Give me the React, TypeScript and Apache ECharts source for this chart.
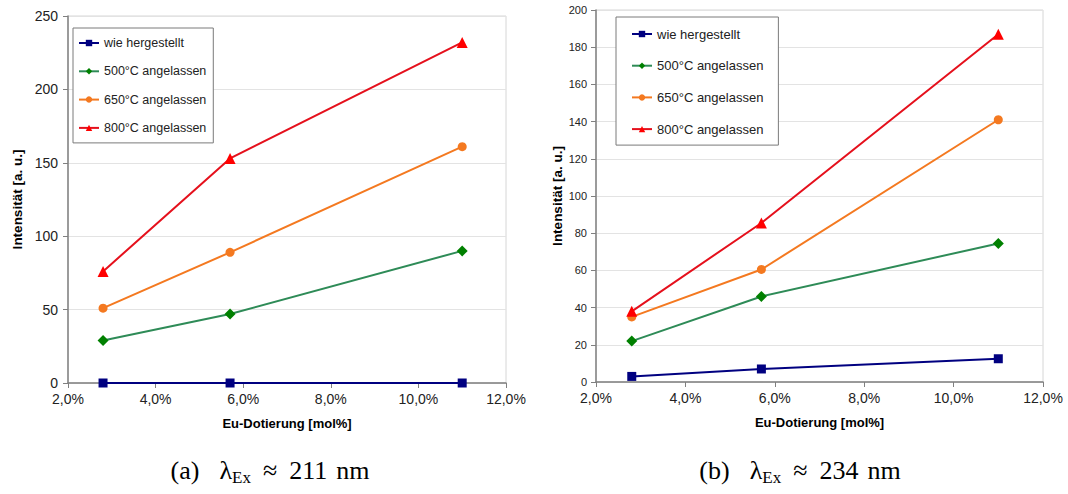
import React, { useEffect, useRef } from "react";
import * as echarts from "echarts";

// Eu doping (mol%) of the three samples
const dotierung = [2.8, 5.7, 11.0];
const seriesNames = ["wie hergestellt", "500°C angelassen", "650°C angelassen", "800°C angelassen"];

// (a) λEx ≈ 211 nm
const a_wie = [0, 0, 0];
const a_500 = [29, 47, 90];
const a_650 = [51, 89, 161];
const a_800 = [76, 153, 232];

// (b) λEx ≈ 234 nm
const b_wie = [3, 7, 12.5];
const b_500 = [22, 46, 74.5];
const b_650 = [35, 60.5, 141];
const b_800 = [38, 85.5, 187];

const xTicks = { min: 2, max: 12, interval: 2 };
const yA = { min: 0, max: 250, interval: 50 };
const yB = { min: 0, max: 200, interval: 20 };

const SANS = "'Liberation Sans', Arial, sans-serif";
const SERIF = "'Liberation Serif', 'Times New Roman', serif";

const styles = [
  { line: "#000080", marker: "#000080", symbol: "rect", size: 9 },
  { line: "#2e8b57", marker: "#008000", symbol: "diamond", size: 11 },
  { line: "#f47920", marker: "#f47920", symbol: "circle", size: 9 },
  { line: "#e5101c", marker: "#ff0000", symbol: "triangle", size: 11 },
];

function mkSeries(arrs: number[][], idx: number) {
  return arrs.map((vals, i) => ({
    type: "line",
    name: seriesNames[i],
    xAxisIndex: idx,
    yAxisIndex: idx,
    data: dotierung.map((x, j) => [x, vals[j]]),
    symbol: styles[i].symbol,
    symbolSize: styles[i].size,
    lineStyle: { color: styles[i].line, width: 2 },
    itemStyle: { color: styles[i].marker },
    z: 3 + i,
  }));
}

const fmtPct = (v: number) => v.toFixed(1).replace(".", ",") + "%";

function xAxisCfg(grid: number) {
  return {
    type: "value",
    gridIndex: grid,
    min: xTicks.min,
    max: xTicks.max,
    interval: xTicks.interval,
    axisLine: { show: true, onZero: false, lineStyle: { color: "#808080", width: 1.5 } },
    axisTick: { show: true, length: 5, lineStyle: { color: "#808080" } },
    axisLabel: { formatter: fmtPct, fontFamily: SANS, fontSize: 14, color: "#222", margin: 9 },
    splitLine: { show: false },
    name: "Eu-Dotierung [mol%]",
    nameLocation: "middle",
    nameGap: 34,
    nameTextStyle: { fontFamily: SANS, fontSize: 13, fontWeight: "bold", color: "#000" },
  };
}

function yAxisCfg(grid: number, r: { min: number; max: number; interval: number }, fs: number, gap: number, margin: number) {
  return {
    type: "value",
    gridIndex: grid,
    min: r.min,
    max: r.max,
    interval: r.interval,
    axisLine: { show: true, lineStyle: { color: "#808080", width: 1.5 } },
    axisTick: { show: true, length: 5, lineStyle: { color: "#808080" } },
    axisLabel: { fontFamily: SANS, fontSize: fs, color: "#222", margin },
    splitLine: { show: true, lineStyle: { color: "#e3e3e3", width: 1 } },
    name: "Intensität [a. u.]",
    nameLocation: "middle",
    nameGap: gap,
    nameTextStyle: { fontFamily: SANS, fontSize: 13.5, fontWeight: "bold", color: "#000" },
  };
}

function legendCfg(left: number, top: number, gap: number, padding: number[], fs: number) {
  return {
    data: seriesNames,
    orient: "vertical",
    left,
    top,
    itemGap: gap,
    itemWidth: 20,
    itemHeight: 8,
    padding,
    backgroundColor: "#fff",
    borderColor: "#7a7a7a",
    borderWidth: 1,
    textStyle: { fontFamily: SANS, fontSize: fs, color: "#222", lineHeight: 14 },
    selectedMode: false,
  };
}

const captionRich = {
  p: { fontFamily: SERIF, fontSize: 26, lineHeight: 28, color: "#000", padding: [0, 20, 0, 0] },
  m: { fontFamily: SERIF, fontSize: 26, lineHeight: 28, color: "#000" },
  q: { fontFamily: SERIF, fontSize: 26, lineHeight: 28, color: "#000", padding: [0, 12, 0, 12] },
  n: { fontFamily: SERIF, fontSize: 26, lineHeight: 28, color: "#000", padding: [0, 9, 0, 0] },
  s: { fontFamily: SERIF, fontSize: 17, verticalAlign: "bottom", lineHeight: 32, color: "#000" },
};

function caption(letter: string, nm: string) {
  return `{p|(${letter})}{m|λ}{s|Ex}{q|≈}{n|${nm}}{m|nm}`;
}

export default function App() {
  const ref = useRef<HTMLDivElement>(null);
  useEffect(() => {
    if (!ref.current) return;
    const chart = echarts.init(ref.current, undefined, { renderer: "svg" });
    chart.setOption({
      animation: false,
      backgroundColor: "#fff",
      grid: [
        { left: 68, right: 1068 - 506, top: 16, bottom: 494 - 383, show: true, borderColor: "#d6d6d6", borderWidth: 1, backgroundColor: "#fff" },
        { left: 596, right: 1068 - 1043, top: 10, bottom: 494 - 382, show: true, borderColor: "#d6d6d6", borderWidth: 1, backgroundColor: "#fff" },
      ],
      xAxis: [xAxisCfg(0), xAxisCfg(1)],
      yAxis: [yAxisCfg(0, yA, 14, 44, 10), yAxisCfg(1, yB, 11, 31, 9)],
      legend: [
        legendCfg(73, 28, 14.3, [8, 7, 8, 5], 12.5),
        legendCfg(616, 17, 17.7, [10, 15, 9, 15], 13),
      ],
      series: [...mkSeries([a_wie, a_500, a_650, a_800], 0), ...mkSeries([b_wie, b_500, b_650, b_800], 1)],
      graphic: [
        {
          type: "text",
          x: 270,
          y: 470,
          style: {
            text: caption("a", "211"),
            rich: captionRich,
            align: "center",
            verticalAlign: "middle",
            textAlign: "center",
            textVerticalAlign: "middle",
          },
        },
        {
          type: "text",
          x: 800,
          y: 470,
          style: {
            text: caption("b", "234"),
            rich: captionRich,
            align: "center",
            verticalAlign: "middle",
            textAlign: "center",
            textVerticalAlign: "middle",
          },
        },
      ],
    });
    return () => chart.dispose();
  }, []);
  return <div ref={ref} style={{ position: "fixed", left: 0, top: 0, width: 1068, height: 494 }} />;
}
